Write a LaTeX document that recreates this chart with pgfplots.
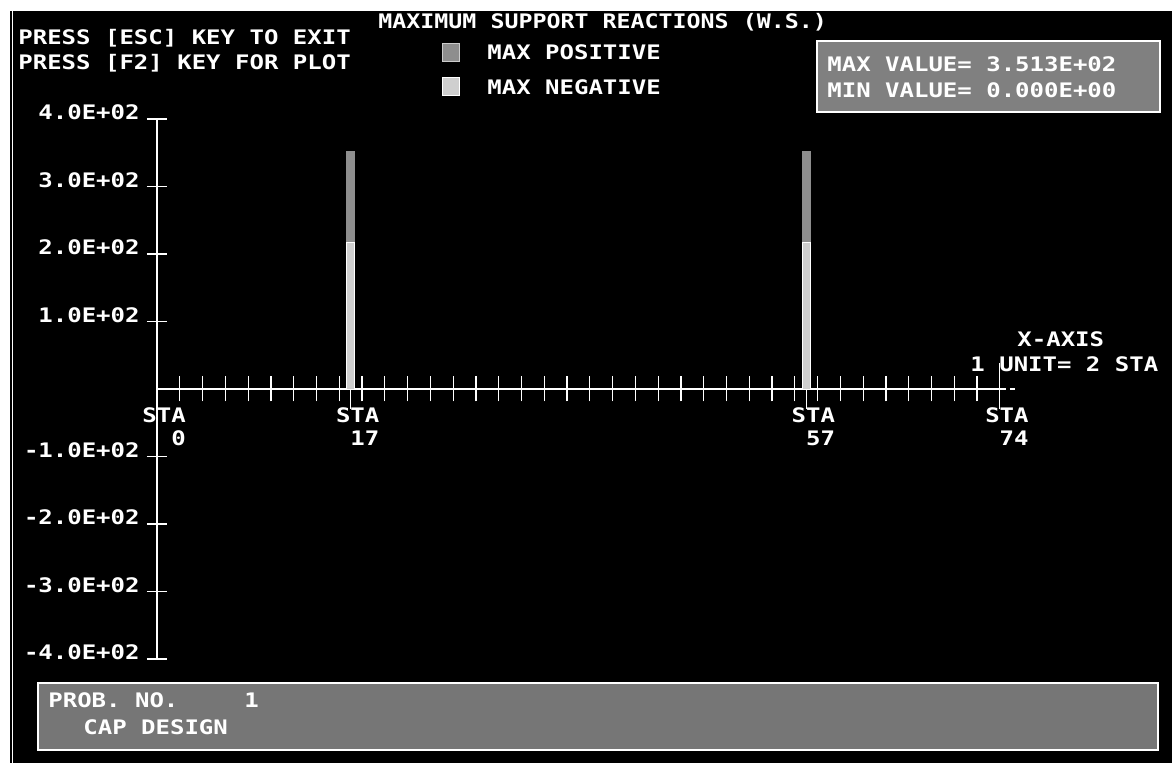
\documentclass[border=0pt]{standalone}
\usepackage{fontspec}
\setmonofont[FakeStretch=1.2]{DejaVu Sans Mono}
\usepackage{pgfplots}
\pgfplotsset{compat=1.18}
\definecolor{posgray}{HTML}{8E8E8E}
\definecolor{neggray}{HTML}{CFCFCF}
\definecolor{boxgray}{HTML}{808080}
\begin{document}
\begin{tikzpicture}[font=\ttfamily\bfseries]
\begin{scope}[x=0.5pt,y=-0.5pt]
\fill[white] (0,0) rectangle (1172,763);
\fill[black] (10,11) rectangle (1172,763);
\draw[white, line width=0.5pt] (12.5,11) -- (12.5,763);
\filldraw[fill=boxgray, draw=white, line width=0.8pt] (817,41) rectangle (1160,112);
\filldraw[fill=boxgray!92!black, draw=white, line width=1pt] (38,683) rectangle (1158,750);
\filldraw[fill=posgray, draw=white!80!black, line width=0.5pt] (442,44) rectangle (459,62);
\filldraw[fill=neggray, draw=white, line width=0.5pt] (442,78) rectangle (459,96);
\begin{scope}[every node/.style={text=white, inner sep=0pt, anchor=base west}]
\node[xscale=0.97] at (378,29) {MAXIMUM SUPPORT REACTIONS (W.S.)};
\node at (18,45) {PRESS [ESC] KEY TO EXIT};
\node at (18,70) {PRESS [F2] KEY FOR PLOT};
\node at (487,60) {MAX POSITIVE};
\node at (487,95) {MAX NEGATIVE};
\node at (827,72) {MAX VALUE= 3.513E+02};
\node at (827,98) {MIN VALUE= 0.000E+00};
\node at (1017,347) {X-AXIS};
\node at (970,372) {1 UNIT= 2 STA};
\node at (48,707) {PROB. NO.};
\node at (244,707) {1};
\node at (83,734) {CAP DESIGN};
\end{scope}
\end{scope}
\begin{axis}[
  at={(78.5pt,-194.5pt)}, anchor=origin,
  x=5.695pt, y=0.3375pt,
  xmin=0, xmax=74, ymin=-400, ymax=400,
  axis lines=middle,
  axis line style={-, white},
  x axis line style={line width=1pt},
  y axis line style={line width=0.6pt},
  xtick=\empty,
  extra x ticks={2,4,...,72},
  extra x tick labels={},
  extra x tick style={major tick length=12.5pt},
  ytick={-400,-300,-200,-100,100,200,300,400},
  yticklabels={-4.0E+02,-3.0E+02,-2.0E+02,-1.0E+02,1.0E+02,2.0E+02,3.0E+02,4.0E+02},
  tick align=center,
  major tick length=10pt,
  tick style={white, line width=0.6pt},
  yticklabel style={text=white, font=\ttfamily\bfseries, anchor=base east, inner sep=0pt, xshift=-3.5pt, yshift=-0.5pt},
  clip=false,
]
\addplot[ybar, bar width=4pt, bar shift=0pt, fill=posgray, draw=posgray] coordinates {(17,351.3) (57,351.3)};
\addplot[ybar, bar width=4pt, bar shift=0pt, fill=neggray, draw=white, line width=0.4pt] coordinates {(17,217) (57,217)};
\draw[white, line width=0.6pt] (axis cs:17,0) -- (axis cs:17,-29.6);
\draw[white, line width=0.6pt] (axis cs:57,0) -- (axis cs:57,-29.6);
\draw[white, line width=0.6pt] (axis cs:74,38.5) -- (axis cs:74,-29.6);
\draw[white, line width=1pt, dash pattern=on 3pt off 2pt] (axis cs:74,0) -- (axis cs:75.3,0);
\begin{scope}[every node/.style={text=white, inner sep=0pt, anchor=base west, xshift=-7.5pt}]
\node[yshift=-17pt] at (axis cs:0,0) {STA};
\node[yshift=-28.5pt] at (axis cs:0,0) {\phantom{00}0};
\node[yshift=-17pt] at (axis cs:17,0) {STA};
\node[yshift=-28.5pt] at (axis cs:17,0) {\phantom{0}17};
\node[yshift=-17pt] at (axis cs:57,0) {STA};
\node[yshift=-28.5pt] at (axis cs:57,0) {\phantom{0}57};
\node[yshift=-17pt] at (axis cs:74,0) {STA};
\node[yshift=-28.5pt] at (axis cs:74,0) {\phantom{0}74};
\end{scope}
\end{axis}
\pgfresetboundingbox
\useasboundingbox (0,0) rectangle (586pt,-381.5pt);
\end{tikzpicture}
\end{document}
